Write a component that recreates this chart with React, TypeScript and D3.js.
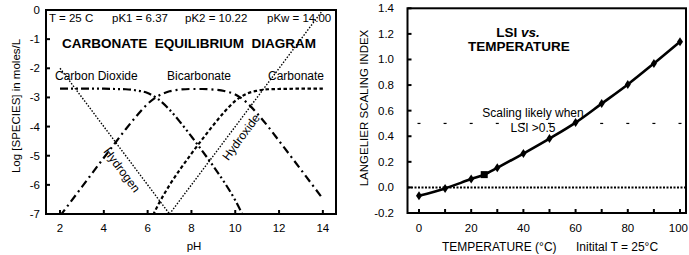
import React from 'react';
import * as d3 from 'd3';

// carbonate equilibrium, values (log mol/L)
const pH = [2, 3, 4, 4.5, 5, 5.5, 6, 6.37, 6.5, 7, 7.5, 8, 8.5, 9, 9.5, 10, 10.22, 10.5, 11, 11.5, 12, 13, 14];
const logCO2 = [-2.70, -2.70, -2.70, -2.71, -2.72, -2.76, -2.85, -3.00, -3.07, -3.42, -3.86, -4.34, -4.84, -5.36, -5.91, -6.53, -6.85, -7.29, -8.18, -9.13, -10.12, -12.1, -14.1];
const logHCO3 = [-7.07, -6.07, -5.07, -4.58, -4.09, -3.63, -3.22, -3.00, -2.94, -2.79, -2.73, -2.71, -2.71, -2.73, -2.78, -2.90, -3.00, -3.16, -3.55, -4.00, -4.49, -5.48, -6.48];
const logCO3 = [-15.29, -13.29, -11.29, -10.30, -9.31, -8.35, -7.44, -6.85, -6.66, -6.01, -5.45, -4.93, -4.43, -3.95, -3.50, -3.12, -3.00, -2.88, -2.77, -2.72, -2.71, -2.70, -2.70];
const hPH = [2, 7];
const logH = [-2, -7];
const ohPH = [7, 14];
const logOH = [-7, 0];
const pHTicks = [2, 4, 6, 8, 10, 12, 14];
const logTicks = [0, -1, -2, -3, -4, -5, -6, -7];

// LSI vs temperature
const temps = [0, 10, 20, 25, 30, 40, 50, 60, 70, 80, 90, 100];
const lsi = [-0.065, -0.008, 0.065, 0.10, 0.153, 0.265, 0.382, 0.507, 0.655, 0.805, 0.969, 1.138];
const thresholdT = [0, 10, 20, 30, 40, 50, 60, 70, 80, 90, 100];
const threshold = 0.5;
const tempTicks = [0, 20, 40, 60, 80, 100];
const tempMinorTicks = [0, 10, 20, 30, 40, 50, 60, 70, 80, 90, 100];
const lsiTicks = [1.4, 1.2, 1.0, 0.8, 0.6, 0.4, 0.2, 0.0, -0.2];

const font = '"Liberation Sans", Arial, sans-serif';

const LeftChart: React.FC = () => {
  const x = d3.scaleLinear().domain([1.36, 14.6]).range([46, 336]);
  const y = d3.scaleLinear().domain([-7, 0]).range([214, 10]);
  const line = (xs: number[], ys: number[]) =>
    d3.line<number>()
      .x((_, i) => x(xs[i]))
      .y((d) => y(d))
      .curve(d3.curveMonotoneX)(ys) || '';

  const [x0, x1] = x.range();
  const [y0, y1] = y.range();

  return (
    <g fontFamily={font}>
      <defs>
        <clipPath id="clipL">
          <rect x={x0} y={y1} width={x1 - x0} height={y0 - y1} />
        </clipPath>
      </defs>
      <g clipPath="url(#clipL)" fill="none" stroke="#000">
        <path d={line(pH, logCO2)} strokeWidth={2.2} strokeDasharray="8,3,2,3,2,3" />
        <path d={line(pH, logHCO3)} strokeWidth={2.2} strokeDasharray="8,4,2,4" />
        <path d={line(pH, logCO3)} strokeWidth={2.2} strokeDasharray="3.5,2.5" />
        <path d={line(hPH, logH)} strokeWidth={1.4} strokeDasharray="1.5,1.6" />
        <path d={line(ohPH, logOH)} strokeWidth={1.4} strokeDasharray="1.5,1.6" />
      </g>
      <rect x={x0} y={y1} width={x1 - x0} height={y0 - y1} fill="none" stroke="#000" strokeWidth={2} />
      {pHTicks.map((t) => (
        <g key={t}>
          <line x1={x(t)} x2={x(t)} y1={y0} y2={y0 - 4} stroke="#000" strokeWidth={2} />
          <text x={x(t)} y={232} fontSize={11.5} textAnchor="middle">{t}</text>
        </g>
      ))}
      {logTicks.map((t) => (
        <g key={t}>
          <line x1={x0} x2={x0 + 4} y1={y(t)} y2={y(t)} stroke="#000" strokeWidth={2} />
          <text x={40} y={y(t) + 4} fontSize={11.5} textAnchor="end">{t}</text>
        </g>
      ))}
      <text x={194} y={250} fontSize={11.5} textAnchor="middle">pH</text>
      <text transform="translate(20,106) rotate(-90)" fontSize={11.5} textAnchor="middle">Log [SPECIES] in moles/L</text>

      <g fontSize={11.5}>
        <text x={49} y={21.5}>T = 25 C</text>
        <text x={112} y={21.5}>pK1 = 6.37</text>
        <text x={185} y={21.5}>pK2 = 10.22</text>
        <text x={267} y={21.5}>pKw = 14.00</text>
      </g>
      <text x={189} y={48} fontSize={13.5} fontWeight="bold" textAnchor="middle" style={{ whiteSpace: 'pre' }}>
        {'CARBONATE  EQUILIBRIUM  DIAGRAM'}
      </text>
      <g fontSize={12}>
        <text x={55} y={80}>Carbon Dioxide</text>
        <text x={167} y={80}>Bicarbonate</text>
        <text x={268} y={80}>Carbonate</text>
        <text transform="translate(122,170) rotate(53.4)" textAnchor="middle" dy="0.35em">Hydrogen</text>
        <text transform="translate(241,137) rotate(-53.4)" textAnchor="middle" dy="0.35em">Hydroxide</text>
      </g>
    </g>
  );
};

const RightChart: React.FC = () => {
  const x = d3.scaleLinear().domain([-4.4, 102.3]).range([407.5, 686]);
  const y = d3.scaleLinear().domain([-0.2, 1.4]).range([213, 8.3]);
  const [x0, x1] = x.range();
  const [y0, y1] = y.range();

  const path = d3.line<number>()
    .x((_, i) => x(temps[i]))
    .y((d) => y(d))
    .curve(d3.curveMonotoneX)(lsi) || '';

  return (
    <g fontFamily={font}>
      <line x1={x0} x2={x1} y1={y(0)} y2={y(0)} stroke="#000" strokeWidth={2} strokeDasharray="2,1.5" />
      {thresholdT.map((t) => (
        <line key={t} x1={x(t) - 1.5} x2={x(t) + 1.5} y1={y(threshold)} y2={y(threshold)} stroke="#000" strokeWidth={1.2} />
      ))}
      <path d={path} fill="none" stroke="#000" strokeWidth={2.6} />
      {temps.map((t, i) =>
        t === 25 ? (
          <rect key={t} x={x(t) - 3.5} y={y(lsi[i]) - 3.5} width={7} height={7} fill="#000" />
        ) : (
          <path
            key={t}
            d={`M${x(t)},${y(lsi[i]) - 4.5}L${x(t) + 3},${y(lsi[i])}L${x(t)},${y(lsi[i]) + 4.5}L${x(t) - 3},${y(lsi[i])}Z`}
            fill="#000"
          />
        )
      )}
      <rect x={x0} y={y1} width={x1 - x0} height={y0 - y1} fill="none" stroke="#000" strokeWidth={2} />
      {tempMinorTicks.map((t) => (
        <line key={t} x1={x(t)} x2={x(t)} y1={y0} y2={y0 - 4} stroke="#000" strokeWidth={2} />
      ))}
      {tempTicks.map((t) =>
        t === 100 ? (
          <text key={t} x={688} y={232} fontSize={11.5} textAnchor="end">{t}</text>
        ) : (
          <text key={t} x={x(t)} y={232} fontSize={11.5} textAnchor="middle">{t}</text>
        )
      )}
      {lsiTicks.map((t) => (
        <g key={t}>
          <line x1={x0} x2={x0 + 4} y1={y(t)} y2={y(t)} stroke="#000" strokeWidth={2} />
          <text x={394} y={y(t) + 4} fontSize={11.5} textAnchor="end">{t.toFixed(1)}</text>
        </g>
      ))}
      <text transform="translate(368,108) rotate(-90)" fontSize={11.5} textAnchor="middle">LANGELIER SCALING INDEX</text>
      <text x={442} y={251} fontSize={12}>TEMPERATURE (°C)</text>
      <text x={576} y={251} fontSize={12}>Initital T = 25°C</text>

      <text x={518} y={37} fontSize={13.5} fontWeight="bold" textAnchor="middle">
        LSI <tspan fontStyle="italic">vs.</tspan>
      </text>
      <text x={519} y={51} fontSize={13.5} fontWeight="bold" textAnchor="middle">TEMPERATURE</text>
      <text x={533} y={117} fontSize={12} textAnchor="middle">Scaling likely when</text>
      <text x={533} y={131.5} fontSize={12} textAnchor="middle">LSI &gt;0.5</text>
    </g>
  );
};

export default function App() {
  return (
    <svg
      width={689}
      height={255}
      style={{ position: 'absolute', left: 0, top: 0, background: '#fff' }}
    >
      <rect width={689} height={255} fill="#fff" />
      <LeftChart />
      <RightChart />
    </svg>
  );
}
